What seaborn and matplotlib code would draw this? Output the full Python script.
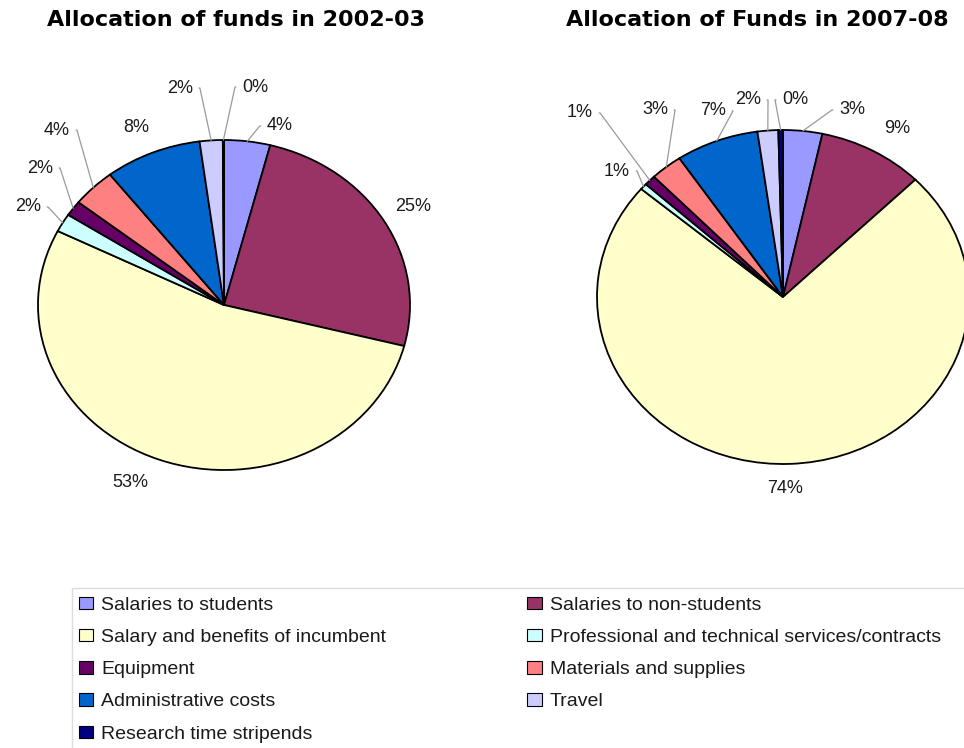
import matplotlib
matplotlib.use("Agg")
import matplotlib.pyplot as plt
import seaborn as sns
import numpy as np
from matplotlib.patches import Patch, Rectangle

sns.set_theme(style="white")
plt.rcParams['font.family'] = ['Liberation Sans', 'DejaVu Sans']

# ---- data ----
categories = ["Salaries to students", "Salaries to non-students",
              "Salary and benefits of incumbent",
              "Professional and technical services/contracts",
              "Equipment", "Materials and supplies", "Administrative costs",
              "Travel", "Research time stripends"]
share_2002 = [4.0, 25.0, 53.4, 1.8, 1.5, 3.8, 8.4, 2.0, 0.1]
share_2007 = [3.4, 9.2, 73.6, 0.6, 1.0, 2.8, 7.2, 1.8, 0.4]
titles = ["Allocation of funds in 2002-03", "Allocation of Funds in 2007-08"]
colors = ["#9999FF", "#993366", "#FFFFCC", "#CCFFFF", "#660066",
          "#FF8080", "#0066CC", "#CCCCFF", "#000080"]

# ---- layout (label placement, in pie-radius units) ----
lab_pos_2002 = [(0.30, 1.085), (1.016, 0.594), (-0.505, -1.073), (-1.054, 0.594),
                (-0.989, 0.83), (-0.898, 1.06), (-0.473, 1.073), (-0.237, 1.315),
                (0.167, 1.321)]
lead_2002 = [True, False, False, True, True, True, False, True, True]
lab_pos_2007 = [(0.371, 1.12), (0.613, 1.006), (0.011, -1.144), (-0.892, 0.754),
                (-1.091, 1.102), (-0.688, 1.12), (-0.376, 1.114), (-0.188, 1.18),
                (0.065, 1.18)]
lead_2007 = [True, False, False, True, True, True, True, True, True]

W, H = 964, 748
fig = plt.figure(figsize=(W / 100, H / 100), dpi=100)


def make_ax(cx, cy, rx, ry, xl=1.3, yl=1.45):
    w = 2 * xl * rx
    h = 2 * yl * ry
    left = cx - w / 2
    top = cy - h / 2
    return fig.add_axes([left / W, (H - top - h) / H, w / W, h / H])


axes = [make_ax(224, 305, 186, 165), make_ax(783, 297, 186, 167)]
datasets = [share_2002, share_2007]
positions = [lab_pos_2002, lab_pos_2007]
leads = [lead_2002, lead_2007]

for ax, vals, pos, lead in zip(axes, datasets, positions, leads):
    wedges, _ = ax.pie(vals, colors=colors, startangle=90, counterclock=False,
                       wedgeprops=dict(edgecolor="black", linewidth=1.3))
    ax.set_aspect("auto")
    ax.set_xlim(-1.3, 1.3)
    ax.set_ylim(-1.45, 1.45)
    ax.axis("off")
    total = sum(vals)
    for w_, v, (tx, ty), ld in zip(wedges, vals, pos, lead):
        txt = f"{round(v / total * 100):.0f}%"
        if ld:
            t = np.deg2rad((w_.theta1 + w_.theta2) / 2)
            ex, ey = np.cos(t), np.sin(t)
            if tx < ex:
                rel, angA = (1, 0.5), 0
            else:
                rel, angA = (0, 0.5), 180
            ax.annotate(txt, xy=(ex, ey), xytext=(tx, ty), ha="center", va="center",
                        fontsize=13, color="#1a1a1a", annotation_clip=False,
                        arrowprops=dict(arrowstyle="-", color="#9a9a9a", lw=0.9,
                                        shrinkA=2, shrinkB=0, relpos=rel,
                                        connectionstyle=f"arc,angleA={angA},angleB=0,armA=7,armB=0,rad=0"))
        else:
            ax.text(tx, ty, txt, ha="center", va="center", fontsize=13,
                    color="#1a1a1a", clip_on=False)

fig.text(236 / W, 1 - 20 / H, titles[0], ha="center", va="center",
         fontsize=16, fontweight="bold", family="DejaVu Sans", color="black")
fig.text(757 / W, 1 - 20 / H, titles[1], ha="center", va="center",
         fontsize=16, fontweight="bold", family="DejaVu Sans", color="black")

# legend frame (runs past the right and bottom edges, as in the reference)
fig.patches.append(Rectangle((72 / W, -20 / H), (1010 - 72) / W, (748 + 20 - 588) / H,
                             transform=fig.transFigure, facecolor="none",
                             edgecolor="#dddddd", linewidth=1.0))

# legend, row-major order with two columns
handles = [Patch(facecolor=c, edgecolor="black", linewidth=0.8) for c in colors]
order = [0, 2, 4, 6, 8, 1, 3, 5, 7]
leg = fig.legend([handles[i] for i in order], [categories[i] for i in order],
                 ncol=2, loc="upper left", bbox_to_anchor=(72 / W, 1 - 590 / H),
                 fontsize=14, frameon=False, handlelength=0.75,
                 handleheight=0.6, handletextpad=0.4, labelspacing=0.78,
                 columnspacing=7.25, borderpad=0.35, borderaxespad=0)
for t in leg.get_texts():
    t.set_color("#1a1a1a")

fig.savefig("out.png", dpi=100, facecolor="white")
